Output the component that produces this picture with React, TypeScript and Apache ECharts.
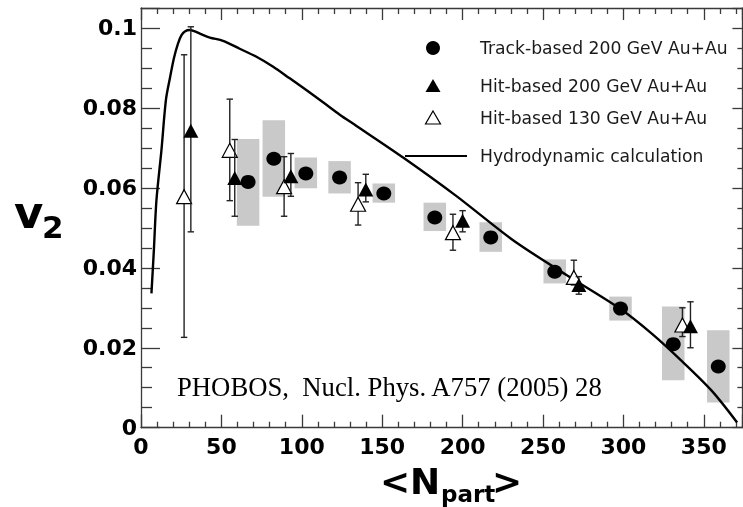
import React, { useEffect, useRef } from "react";
import * as echarts from "echarts";

// Track-based 200 GeV Au+Au (filled circles) with systematic boxes
const trackX = [66.6, 82.6, 102.5, 123.5, 151, 182.7, 217.5, 257.3, 298.2, 331, 359];
const trackV = [0.0615, 0.0673, 0.0636, 0.0626, 0.0586, 0.0526, 0.0476, 0.039, 0.0298, 0.0209, 0.0153];
const trackSysHigh = [0.0722, 0.0769, 0.0676, 0.0667, 0.0611, 0.0563, 0.0514, 0.0421, 0.0328, 0.0303, 0.0244];
const trackSysLow = [0.0505, 0.0578, 0.0599, 0.0586, 0.0563, 0.0492, 0.044, 0.0361, 0.0268, 0.0119, 0.0063];

// Hit-based 200 GeV Au+Au (filled triangles)
const hit200X = [31, 58.3, 93.2, 139.8, 200, 272.3, 341.7];
const hit200V = [0.0743, 0.0625, 0.0629, 0.0596, 0.0518, 0.0357, 0.0254];
const hit200Hi = [0.1003, 0.0721, 0.0686, 0.0634, 0.0543, 0.0378, 0.0315];
const hit200Lo = [0.049, 0.0529, 0.0579, 0.0565, 0.049, 0.0334, 0.02];

// Hit-based 130 GeV Au+Au (open triangles)
const hit130X = [26.8, 55.2, 89, 135, 194, 269.2, 336.7];
const hit130V = [0.0578, 0.0694, 0.0603, 0.0559, 0.0488, 0.0376, 0.0257];
const hit130Hi = [0.0933, 0.0822, 0.0678, 0.0613, 0.0534, 0.0419, 0.03];
const hit130Lo = [0.0226, 0.0568, 0.0529, 0.0507, 0.0444, 0.0357, 0.0228];

// Hydrodynamic calculation
const hydroX = [6.5, 8, 9.6, 12.7, 15.5, 18, 20.5, 23, 25.2, 27.5, 30.3, 33, 36.6, 42.8, 51, 61.4, 71.8, 82.2, 92.5, 103, 113.2, 123.6, 134, 163, 196, 231.4, 264.6, 297.8, 318, 337, 355, 370.7];
const hydroV = [0.0336, 0.0444, 0.0569, 0.0694, 0.082, 0.0875, 0.0925, 0.0961, 0.0982, 0.0992, 0.0995, 0.0992, 0.0986, 0.0976, 0.0968, 0.0948, 0.0928, 0.0903, 0.0874, 0.0844, 0.0814, 0.0783, 0.0755, 0.0676, 0.058, 0.0469, 0.0382, 0.0298, 0.0234, 0.0164, 0.0092, 0.0013];

const legendLabels = [
  "Track-based 200 GeV Au+Au",
  "Hit-based 200 GeV Au+Au",
  "Hit-based 130 GeV Au+Au",
  "Hydrodynamic calculation",
];
const citation = "PHOBOS,  Nucl. Phys. A757 (2005) 28";

const X_MIN = 0;
const X_MAX = 374;
const Y_MIN = 0;
const Y_MAX = 0.105;
const BOX_HALF = 7;

export default function App() {
  const ref = useRef<HTMLDivElement>(null);
  useEffect(() => {
    const chart = echarts.init(ref.current!, null, { renderer: "svg" });
    const axisColor = "#3a3a3a";
    const labelFont = {
      fontFamily: "DejaVu Sans",
      fontWeight: "bold" as const,
      fontSize: 22,
      color: "#000",
    };
    const fmt = (v: number) => String(+v.toFixed(3));

    const errRender = (params: any, api: any) => {
      const x = api.value(0);
      const lo = api.value(1);
      const hi = api.value(2);
      const pLo = api.coord([x, lo]);
      const pHi = api.coord([x, hi]);
      const cap = 3.2;
      const st = { stroke: "#222", lineWidth: 1.4 };
      return {
        type: "group",
        children: [
          { type: "line", shape: { x1: pLo[0], y1: pLo[1], x2: pHi[0], y2: pHi[1] }, style: st },
          { type: "line", shape: { x1: pLo[0] - cap, y1: pLo[1], x2: pLo[0] + cap, y2: pLo[1] }, style: st },
          { type: "line", shape: { x1: pHi[0] - cap, y1: pHi[1], x2: pHi[0] + cap, y2: pHi[1] }, style: st },
        ],
      };
    };

    const axisCommon = (tickLen: number, minorLen: number, split: number) => ({
      axisLine: { show: true, onZero: false, lineStyle: { color: axisColor, width: 1.3 } },
      axisTick: { show: true, inside: true, length: tickLen, lineStyle: { color: axisColor, width: 1.3 } },
      minorTick: { show: true, splitNumber: split, length: minorLen, lineStyle: { color: axisColor, width: 1.3 } },
      splitLine: { show: false },
      minorSplitLine: { show: false },
    });

    const legendX = 433;
    const legendRows = [48, 86, 118, 156];
    const legendTextX = 480;
    const legendFont = { fontFamily: "DejaVu Sans", fontSize: 17.2, fill: "#1a1a1a" };
    const titleFont = { fontFamily: "DejaVu Sans", fontWeight: "bold", fill: "#000", align: "left", verticalAlign: "middle" };

    const option: any = {
      animation: false,
      grid: { left: 141, top: 8, right: 0.6, bottom: 79.3, containLabel: false },
      xAxis: [
        {
          type: "value",
          min: X_MIN,
          max: X_MAX,
          interval: 50,
          position: "bottom",
          ...axisCommon(13, 6, 5),
          axisLabel: { ...labelFont, margin: 8, showMaxLabel: false, formatter: fmt },
        },
        {
          type: "value",
          min: X_MIN,
          max: X_MAX,
          interval: 50,
          position: "top",
          ...axisCommon(12, 6, 5),
          axisLabel: { show: false },
        },
      ],
      yAxis: [
        {
          type: "value",
          min: Y_MIN,
          max: Y_MAX,
          interval: 0.02,
          position: "left",
          ...axisCommon(19, 11, 4),
          axisLabel: { ...labelFont, margin: 4, showMaxLabel: false, formatter: fmt },
        },
        {
          type: "value",
          min: Y_MIN,
          max: Y_MAX,
          interval: 0.02,
          position: "right",
          ...axisCommon(10, 5, 4),
          axisLabel: { show: false },
        },
      ],
      series: [
        {
          name: "Track-based systematic",
          type: "custom",
          z: 1,
          data: trackX.map((x, i) => [x, trackSysLow[i], trackSysHigh[i]]),
          encode: { x: 0, y: [1, 2] },
          renderItem: (params: any, api: any) => {
            const x = api.value(0);
            const p1 = api.coord([x - BOX_HALF, api.value(2)]);
            const p2 = api.coord([x + BOX_HALF, api.value(1)]);
            return {
              type: "rect",
              shape: { x: p1[0], y: p1[1], width: p2[0] - p1[0], height: p2[1] - p1[1] },
              style: { fill: "#c9c9c9" },
            };
          },
        },
        {
          name: "Hydrodynamic calculation",
          type: "line",
          z: 2,
          data: hydroX.map((x, i) => [x, hydroV[i]]),
          showSymbol: false,
          smooth: 0.3,
          lineStyle: { color: "#000", width: 2.4 },
        },
        {
          name: "Hit-based 130 errors",
          type: "custom",
          z: 3,
          data: hit130X.map((x, i) => [x, hit130Lo[i], hit130Hi[i]]),
          encode: { x: 0, y: [1, 2] },
          renderItem: errRender,
        },
        {
          name: "Hit-based 130 GeV Au+Au",
          type: "scatter",
          z: 4,
          symbol: "triangle",
          symbolSize: [15, 14],
          data: hit130X.map((x, i) => [x, hit130V[i]]),
          itemStyle: { color: "#fff", borderColor: "#000", borderWidth: 1.2, opacity: 1 },
        },
        {
          name: "Hit-based 200 errors",
          type: "custom",
          z: 5,
          data: hit200X.map((x, i) => [x, hit200Lo[i], hit200Hi[i]]),
          encode: { x: 0, y: [1, 2] },
          renderItem: errRender,
        },
        {
          name: "Hit-based 200 GeV Au+Au",
          type: "scatter",
          z: 6,
          symbol: "triangle",
          symbolSize: [15, 14],
          data: hit200X.map((x, i) => [x, hit200V[i]]),
          itemStyle: { color: "#000", opacity: 1 },
        },
        {
          name: "Track-based 200 GeV Au+Au",
          type: "scatter",
          z: 7,
          symbol: "circle",
          symbolSize: [15, 14],
          data: trackX.map((x, i) => [x, trackV[i]]),
          itemStyle: { color: "#000", opacity: 1 },
        },
      ],
      graphic: [
        { type: "circle", shape: { cx: legendX, cy: legendRows[0], r: 7 }, style: { fill: "#000" } },
        {
          type: "polygon",
          shape: { points: [[legendX, legendRows[1] - 7], [legendX + 7.5, legendRows[1] + 6], [legendX - 7.5, legendRows[1] + 6]] },
          style: { fill: "#000" },
        },
        {
          type: "polygon",
          shape: { points: [[legendX, legendRows[2] - 7], [legendX + 7.5, legendRows[2] + 6], [legendX - 7.5, legendRows[2] + 6]] },
          style: { fill: "#fff", stroke: "#000", lineWidth: 1.2 },
        },
        {
          type: "line",
          shape: { x1: 405, y1: legendRows[3], x2: 467, y2: legendRows[3] },
          style: { stroke: "#000", lineWidth: 2.2 },
        },
        ...legendLabels.map((t, i) => ({
          type: "text",
          x: legendTextX,
          y: legendRows[i],
          style: { text: t, ...legendFont, align: "left", verticalAlign: "middle" },
        })),
        {
          type: "text",
          x: 177,
          y: 387,
          style: {
            text: citation,
            fontFamily: "Liberation Serif",
            fontSize: 26.7,
            fill: "#000",
            align: "left",
            verticalAlign: "middle",
          },
        },
        // y-axis title v_2
        { type: "text", x: 14, y: 212, style: { text: "v", fontSize: 45, ...titleFont } },
        { type: "text", x: 42, y: 227, style: { text: "2", fontSize: 31, ...titleFont } },
        // x-axis title <N_part>
        { type: "text", x: 380, y: 481, style: { text: "<", fontSize: 36, ...titleFont } },
        { type: "text", x: 410, y: 481, style: { text: "N", fontSize: 36, ...titleFont } },
        { type: "text", x: 441, y: 494, style: { text: "part", fontSize: 23, ...titleFont } },
        { type: "text", x: 492, y: 481, style: { text: ">", fontSize: 36, ...titleFont } },
      ],
    };
    chart.setOption(option);
    return () => chart.dispose();
  }, []);
  return <div ref={ref} style={{ position: "fixed", left: 0, top: 0, width: 743, height: 507 }} />;
}
